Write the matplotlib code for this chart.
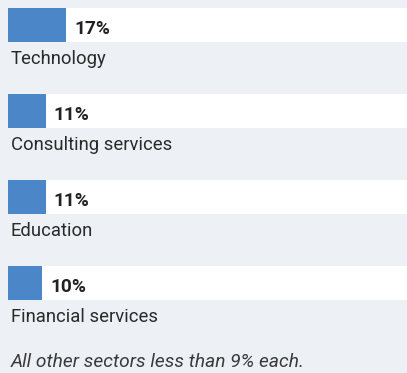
import matplotlib
matplotlib.use("Agg")
import matplotlib.pyplot as plt
from matplotlib import font_manager

sectors = ["Technology", "Consulting services", "Education", "Financial services"]
shares = [17, 11, 11, 10]
note = "All other sectors less than 9% each."

installed = {f.name for f in font_manager.fontManager.ttflist}
family = "Liberation Sans Narrow" if "Liberation Sans Narrow" in installed else "Roboto"

W, H = 407, 373
fig = plt.figure(figsize=(W / 100, H / 100), dpi=100)
fig.patch.set_facecolor("#edf1f5")

# axes start at the left edge of the bars and run to the right edge
left = 8
ax = fig.add_axes([left / W, 0, 1 - left / W, 1])
ax.set_facecolor("none")
xmax = 117.0
ax.set_xlim(0, xmax)
ax.set_ylim(H, 0)
ax.axis("off")

bar_h = 34
first_top = 8
step = 86
for i, (name, v) in enumerate(zip(sectors, shares)):
    yc = first_top + i * step + bar_h / 2
    ax.barh(yc, xmax, height=bar_h, color="white", linewidth=0)
    ax.barh(yc, v, height=bar_h, color="#4a86c8", linewidth=0)
    bottom = yc + bar_h / 2
    ax.annotate(f"{v}%", xy=(v, bottom - 8), xytext=(8, 0), textcoords="offset pixels",
                ha="left", va="baseline", fontsize=13.8, fontweight="bold",
                color="#222222", family=family)
    ax.annotate(name, xy=(0, bottom + 22), xytext=(3, 0), textcoords="offset pixels",
                ha="left", va="baseline", fontsize=13.3, color="#2a2a2a", family=family)

ax.annotate(note, xy=(0, 367), xytext=(3, 0), textcoords="offset pixels",
            ha="left", va="baseline", fontsize=13.8, style="italic",
            color="#3a3a3a", family=family)

fig.savefig("out.png", dpi=100, facecolor=fig.get_facecolor())
